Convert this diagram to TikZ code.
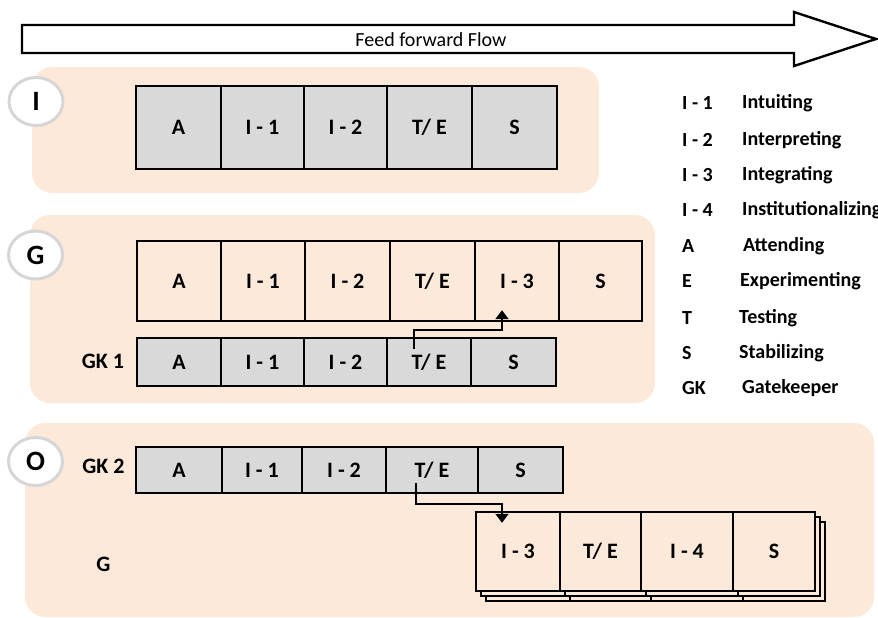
\documentclass[tikz,border=0pt]{standalone}
\usepackage{fontspec}
\setmainfont{Carlito}
\usetikzlibrary{shapes.geometric,arrows.meta}
\definecolor{peach}{HTML}{FDE9D9}
\definecolor{gkgray}{HTML}{D9D9D9}
\definecolor{ringgray}{HTML}{D6D6D6}
\newcommand{\fsz}[1]{\fontsize{#1}{#1}\selectfont}

\begin{document}
\begin{tikzpicture}[x=1pt,y=-1pt,
    region/.style={fill=peach,draw=none,rounded corners=20pt},
    stage/.style={ellipse,draw=ringgray,line width=3pt,fill=white,minimum width=54pt,minimum height=48pt,inner sep=0pt,font=\fsz{28}\bfseries},
    cell/.style={draw,line width=2.4pt,inner sep=0pt,font=\fsz{22}\bfseries},
    gkcell/.style={cell,fill=gkgray},
    rowlabel/.style={font=\fsz{22}\bfseries},
    legend/.style={anchor=west,inner sep=0pt,font=\fsz{20}\bfseries},
    flow/.style={line width=2pt,-{Triangle[width=13pt,length=9pt]}}]
    \useasboundingbox (0,0) rectangle (878,618);

    % feed forward arrow
    \draw[line width=2.4pt,fill=white] (22,25) -- (794,25) -- (794,12) -- (876,39)
        -- (794,66) -- (794,53) -- (22,53) -- cycle;
    \node[font=\fsz{20}] (flowtext) at (431,40) {Feed forward Flow};

    % backgrounds
    \fill[region] (32,67) rectangle (599,193);
    \fill[region] (30,215) rectangle (655,403);
    \fill[region] (25,423) rectangle (874,617);

    \node[stage] (stI) at (36,101.5) {I};
    \node[stage] (stG) at (35.5,255) {G};
    \node[stage] (stO) at (35.5,461.5) {O};

    % individual
    \foreach \lab/\x/\w [count=\k] in {A/178.5/85,I - 1/262.5/83,I - 2/345.5/83,{T/ E}/429.5/85,S/514.5/85}
        \node[gkcell,minimum width=\w pt,minimum height=83pt] (i-\k) at (\x,127.5) {\lab};

    % group
    \foreach \lab/\x/\w [count=\k] in {A/179/84,I - 1/263/84,I - 2/347.5/85,{T/ E}/432.5/85,I - 3/517/84,S/600.5/83}
        \node[cell,minimum width=\w pt,minimum height=80pt] (g-\k) at (\x,281) {\lab};
    \node[rowlabel] (gk1) at (103,361) {GK 1};
    \foreach \lab/\x/\w [count=\k] in {A/179/84,I - 1/262.5/83,I - 2/345.5/83,{T/ E}/429/84,S/513.5/85}
        \node[gkcell,minimum width=\w pt,minimum height=48pt] (gk1-\k) at (\x,362) {\lab};
    \draw[flow] ([xshift=-15pt,yshift=-12pt]gk1-4.north) |- ([xshift=-15pt,yshift=-8pt]g-5.south)
        -- ([xshift=-15pt,yshift=12pt]g-5.south);

    % organization
    \node[rowlabel] (gk2) at (103.5,466) {GK 2};
    \foreach \lab/\x/\w [count=\k] in {A/179/86,I - 1/262/80,I - 2/344/84,{T/ E}/432/92,S/520.5/85}
        \node[gkcell,minimum width=\w pt,minimum height=46pt] (gk2-\k) at (\x,470) {\lab};
    \node[rowlabel] (glab) at (103.5,564) {G};
    \foreach \d in {10,5}
        \foreach \x/\w in {518/84,600.5/81,687/92,774/82}
            \node[cell,fill=peach,minimum width=\w pt,minimum height=79pt] at (\x+\d,551.5+\d) {};
    \foreach \lab/\x/\w [count=\k] in {I - 3/518/84,{T/ E}/600.5/81,I - 4/687/92,S/774/82}
        \node[cell,fill=peach,minimum width=\w pt,minimum height=79pt] (stk-\k) at (\x,551.5) {\lab};
    \draw[flow] ([xshift=-16pt,yshift=11pt]gk2-4.south) |- ([xshift=-16pt,yshift=7pt]stk-1.north)
        -- ([xshift=-16pt,yshift=-12pt]stk-1.north);

    % legend
    \foreach \ab/\term/\y/\tx [count=\k] in {I - 1/Intuiting/103/742,I - 2/Interpreting/140/742,
        I - 3/Integrating/175/742,I - 4/Institutionalizing/210/742,A/Attending/246/743,
        E/Experimenting/281/740,T/Testing/318/739,S/Stabilizing/353/739,GK/Gatekeeper/388/742}
    {
        \node[legend] (ab-\k) at (682,\y) {\ab};
        \node[legend] (term-\k) at (\tx,\y) {\term};
    }
\end{tikzpicture}
\end{document}
